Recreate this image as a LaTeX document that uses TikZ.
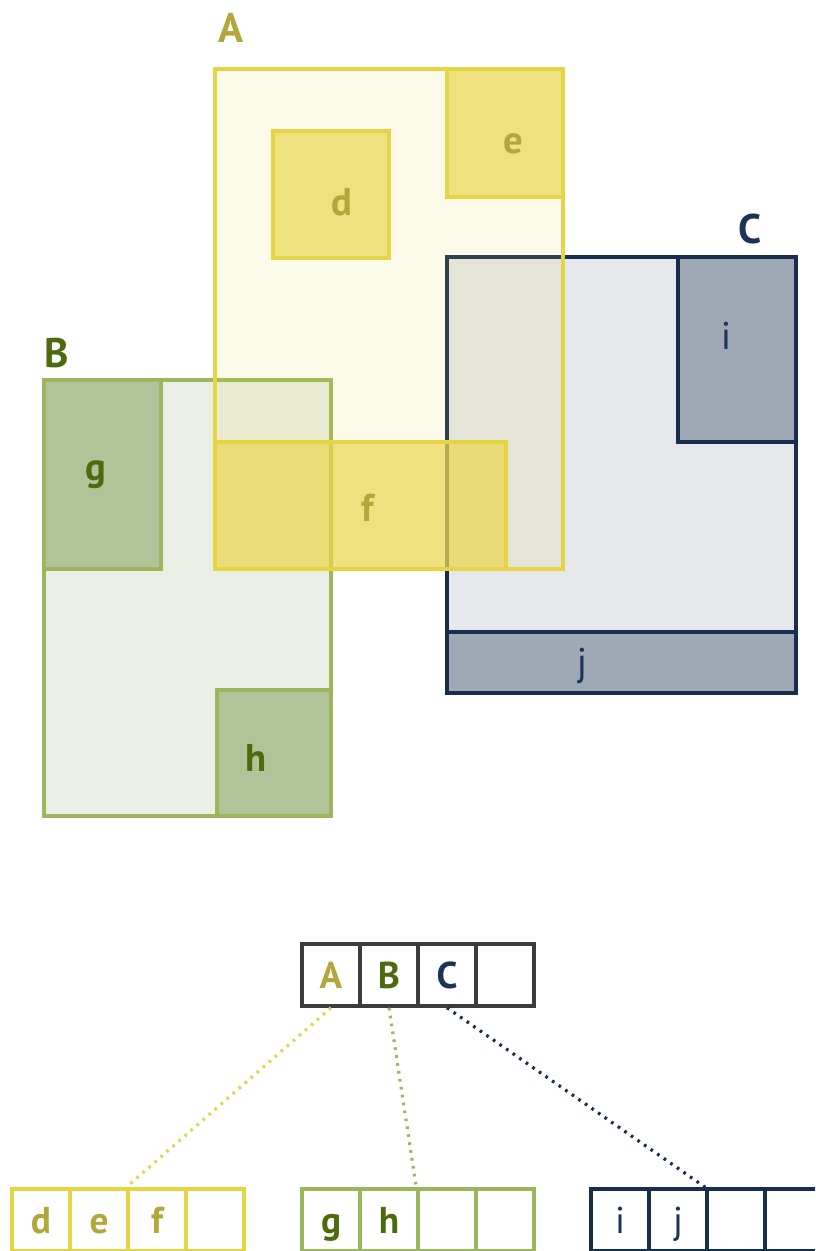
\documentclass[tikz,border=0pt]{standalone}
\usepackage{fontspec}
\setmainfont{PT Sans}
\usepackage{tikz}
\usetikzlibrary{positioning}

\definecolor{yelline}{HTML}{E5D544}
\definecolor{yelfill}{HTML}{E5D544}
\definecolor{yelbox}{HTML}{EAD851}
\definecolor{olivetxt}{HTML}{B3A63A}
\definecolor{grnline}{HTML}{9CB65E}
\definecolor{grnfill}{HTML}{EBEEE5}
\definecolor{grnbox}{HTML}{B2C299}
\definecolor{grntxt}{HTML}{4B6B0E}
\definecolor{navyline}{HTML}{172E4F}
\definecolor{navyfill}{HTML}{E6E8EC}
\definecolor{navybox}{HTML}{9FA9B5}
\definecolor{navytxt}{HTML}{1A3457}
\definecolor{rootline}{HTML}{3C3C3C}

\tikzset{
  region/.style={line width=2.6pt},
  biglabel/.style={font=\fontsize{31}{34}\selectfont\bfseries},
  smalllabel/.style={font=\fontsize{29}{32}\selectfont, text height=20pt, text depth=0pt},
  boldlabel/.style={smalllabel, font=\fontsize{29}{32}\selectfont\bfseries},
  cell/.style={draw, line width=2.6pt, minimum width=43.5pt, minimum height=46.5pt,
    inner sep=0pt, font=\fontsize{28}{30}\selectfont, text height=20pt, text depth=0pt},
  boldcell/.style={cell, font=\fontsize{28}{30}\selectfont\bfseries},
  link/.style={line width=2.4pt, dash pattern=on 2pt off 4pt}
}

\begin{document}
\begin{tikzpicture}[x=0.75pt, y=-0.75pt]
\useasboundingbox (0,0) rectangle (815,1251);
\clip (0,0) rectangle (815,1251);

% Region B
\filldraw[region, draw=grnline, fill=grnfill] (44,380) rectangle (331,816);
\filldraw[region, draw=grnline, fill=grnbox] (44,380) rectangle (161,569);
\filldraw[region, draw=grnline, fill=grnbox] (217,690) rectangle (331,816);

% Region C
\filldraw[region, draw=navyline, fill=navyfill] (447,257) rectangle (796,693);
\filldraw[region, draw=navyline, fill=navybox] (678,257) rectangle (796,442);
\filldraw[region, draw=navyline, fill=navybox] (447,632) rectangle (796,693);

% Region A (see-through)
\filldraw[region, draw=yelline, fill=yelfill, fill opacity=0.12] (215,69) rectangle (563,569);
\filldraw[region, draw=yelline, fill=yelbox, fill opacity=0.7] (273,131) rectangle (389,258);
\filldraw[region, draw=yelline, fill=yelbox, fill opacity=0.7] (447,69) rectangle (563,197);
\filldraw[region, draw=yelline, fill=yelbox, fill opacity=0.7] (215,442) rectangle (506,569);

% Labels
\node[biglabel, text=olivetxt] (labA) at (231,28) {A};
\node[biglabel, text=grntxt] (labB) at (57,353) {B};
\node[biglabel, text=navytxt] (labC) at (750,229) {C};
\node[boldlabel, text=olivetxt] (labd) at (342,202) {d};
\node[boldlabel, text=olivetxt] (labe) at (513,140) {e};
\node[boldlabel, text=olivetxt] (labf) at (368,508) {f};
\node[boldlabel, text=grntxt] (labg) at (96,467) {g};
\node[boldlabel, text=grntxt] (labh) at (256,758) {h};
\node[smalllabel, text=navytxt] (labi) at (726,336) {i};
\node[smalllabel, text=navytxt] (labj) at (582,662) {j};

% Root entry
\foreach \i/\t/\c in {1/A/olivetxt, 2/B/grntxt, 3/C/navytxt, 4//black}
  \node[boldcell, draw=rootline, text=\c] (r\i) at (273+58*\i,975) {\t};

% Leaf entries
\foreach \i/\t in {1/d, 2/e, 3/f, 4/}
  \node[boldcell, draw=yelline, text=olivetxt] (y\i) at (-17+58*\i,1220) {\t};
\foreach \i/\t in {1/g, 2/h, 3/, 4/}
  \node[boldcell, draw=grnline, text=grntxt] (g\i) at (273+58*\i,1220) {\t};
\foreach \i/\t in {1/i, 2/j, 3/, 4/}
  \node[cell, draw=navyline, text=navytxt] (n\i) at (562+58*\i,1220) {\t};

% Pointers
\draw[link, yelline] (r1.south) -- (y3.north west);
\draw[link, grnline] (r2.south) -- (g3.north west);
\draw[link, navyline] (r3.south) -- (n3.north west);
\end{tikzpicture}
\end{document}
